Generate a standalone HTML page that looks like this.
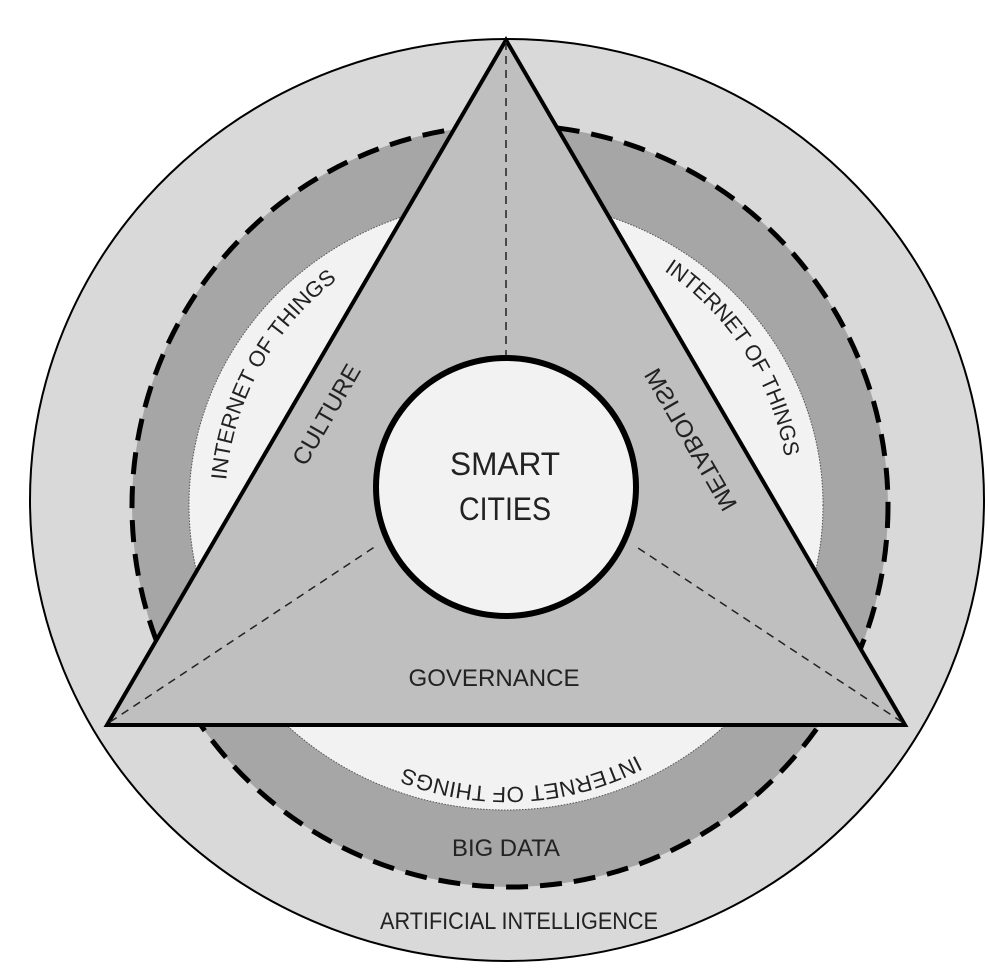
<!DOCTYPE html>
<html><head><meta charset="utf-8"><style>
html,body{margin:0;padding:0;background:#fff}
svg{display:block}
text{font-family:"Liberation Sans",sans-serif;fill:#222}
</style></head><body>
<svg width="988" height="980" viewBox="0 0 988 980" xmlns="http://www.w3.org/2000/svg">
<ellipse cx="507" cy="500" rx="477" ry="461" fill="#d9d9d9" stroke="#000" stroke-width="2"/>
<ellipse cx="510" cy="506" rx="378" ry="381" fill="#a6a6a6" stroke="#000" stroke-width="5" stroke-dasharray="22 12"/>
<ellipse cx="506" cy="505" rx="317" ry="305" fill="#f2f2f2" stroke="#555" stroke-width="1" stroke-dasharray="1.5 1.5"/>
<polygon points="506,40 107,725 905,725" fill="#bfbfbf" stroke="#000" stroke-width="4" stroke-linejoin="miter"/>
<line x1="506" y1="42" x2="506" y2="358" stroke="#222" stroke-width="1.5" stroke-dasharray="8 6"/>
<line x1="110" y1="722" x2="376" y2="546" stroke="#222" stroke-width="1.5" stroke-dasharray="8 6"/>
<line x1="902" y1="722" x2="635" y2="546" stroke="#222" stroke-width="1.5" stroke-dasharray="8 6"/>
<ellipse cx="506" cy="487" rx="130" ry="129" fill="#f2f2f2" stroke="#000" stroke-width="6"/>

<path id="aL" fill="none" d="M 265.3 650.2 A 282 282 0 0 1 502.1 223"/>
<path id="aR" fill="none" d="M 492.2 223.4 A 282 282 0 0 1 758.3 633.0"/>
<path id="aB" fill="none" d="M 758.3 633.0 A 282 282 0 0 1 270.5 658.6"/>
<text font-size="22"><textPath href="#aL" startOffset="50%" text-anchor="middle" textLength="236" lengthAdjust="spacingAndGlyphs">INTERNET OF THINGS</textPath></text>
<text font-size="22"><textPath href="#aR" startOffset="50%" text-anchor="middle" textLength="228" lengthAdjust="spacingAndGlyphs">INTERNET OF THINGS</textPath></text>
<text font-size="22"><textPath href="#aB" startOffset="50%" text-anchor="middle" textLength="240" lengthAdjust="spacingAndGlyphs">INTERNET OF THINGS</textPath></text>

<text x="0" y="0" font-size="24" text-anchor="middle" dominant-baseline="central" transform="translate(327 415) rotate(-60)" textLength="112" lengthAdjust="spacingAndGlyphs">CULTURE</text>
<text x="0" y="0" font-size="24" text-anchor="middle" dominant-baseline="central" transform="translate(690 440) rotate(60) scale(-1 1)" textLength="160" lengthAdjust="spacingAndGlyphs">METABOLISM</text>

<text x="505" y="475" font-size="32" text-anchor="middle" textLength="110" lengthAdjust="spacingAndGlyphs">SMART</text>
<text x="505" y="520" font-size="32" text-anchor="middle" textLength="92" lengthAdjust="spacingAndGlyphs">CITIES</text>
<text x="494" y="686" font-size="24" text-anchor="middle" textLength="171" lengthAdjust="spacingAndGlyphs">GOVERNANCE</text>
<text x="506" y="856" font-size="24" text-anchor="middle" textLength="108" lengthAdjust="spacingAndGlyphs">BIG DATA</text>
<text x="519" y="929" font-size="24" text-anchor="middle" textLength="278" lengthAdjust="spacingAndGlyphs">ARTIFICIAL INTELLIGENCE</text>
</svg>
</body></html>
